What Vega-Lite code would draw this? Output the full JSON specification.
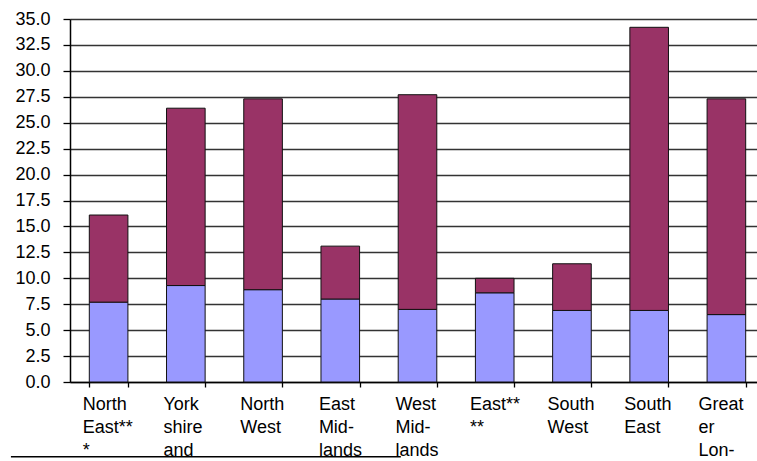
{
  "$schema": "https://vega.github.io/schema/vega-lite/v6.json",
  "width": 695,
  "height": 363,
  "autosize": "none",
  "padding": {"left": 70, "top": 19, "right": 0, "bottom": 79},
  "background": "white",
  "config": {
    "view": {"stroke": null},
    "font": "Liberation Sans",
    "axis": {"labelFont": "Liberation Sans", "labelColor": "black", "titleFont": "Liberation Sans"}
  },
  "layer": [
    {
      "data": {
        "values": [
          {"region": "North|East**|*", "series": "lower", "ord": 1, "value": 7.7},
          {"region": "North|East**|*", "series": "upper", "ord": 2, "value": 8.4},
          {"region": "York|shire|and|the|Humber", "series": "lower", "ord": 1, "value": 9.3},
          {"region": "York|shire|and|the|Humber", "series": "upper", "ord": 2, "value": 17.1},
          {"region": "North|West", "series": "lower", "ord": 1, "value": 8.9},
          {"region": "North|West", "series": "upper", "ord": 2, "value": 18.4},
          {"region": "East|Mid-|lands", "series": "lower", "ord": 1, "value": 8.0},
          {"region": "East|Mid-|lands", "series": "upper", "ord": 2, "value": 5.1},
          {"region": "West|Mid-|lands", "series": "lower", "ord": 1, "value": 7.0},
          {"region": "West|Mid-|lands", "series": "upper", "ord": 2, "value": 20.7},
          {"region": "East**|**", "series": "lower", "ord": 1, "value": 8.6},
          {"region": "East**|**", "series": "upper", "ord": 2, "value": 1.4},
          {"region": "South|West", "series": "lower", "ord": 1, "value": 6.9},
          {"region": "South|West", "series": "upper", "ord": 2, "value": 4.5},
          {"region": "South|East", "series": "lower", "ord": 1, "value": 6.9},
          {"region": "South|East", "series": "upper", "ord": 2, "value": 27.3},
          {"region": "Great|er|Lon-|don", "series": "lower", "ord": 1, "value": 6.5},
          {"region": "Great|er|Lon-|don", "series": "upper", "ord": 2, "value": 20.8}
        ]
      },
      "mark": {"type": "bar", "stroke": "#111", "strokeWidth": 1},
      "encoding": {
        "x": {
          "field": "region",
          "type": "nominal",
          "sort": null,
          "scale": {"paddingInner": 0.5, "paddingOuter": 0.25},
          "axis": {
            "title": null,
            "labelAngle": 0,
            "labelAlign": "left",
            "labelBaseline": "top",
            "labelFontSize": 18,
            "labelLineHeight": 23,
            "labelPadding": 8,
            "labelExpr": "datum.value ? split(datum.value, '|') : ''",
            "labelOffset": {"expr": "datum.value == 'North|East**|*' ? -26.3 : datum.value == 'York|shire|and|the|Humber' ? -22.9 : datum.value == 'North|West' ? -23.3 : datum.value == 'East|Mid-|lands' ? -21.9 : datum.value == 'West|Mid-|lands' ? -22.6 : datum.value == 'East**|**' ? -25.3 : datum.value == 'South|West' ? -24.9 : datum.value == 'South|East' ? -25.3 : -28.3"},
            "labelOverlap": false,
            "labelLimit": 0,
            "tickBand": "extent",
            "tickSize": 5,
            "tickColor": "black",
            "tickWidth": 1.3,
            "domainColor": "black",
            "domainWidth": 1.5,
            "grid": false
          }
        },
        "y": {
          "field": "value",
          "type": "quantitative",
          "stack": "zero",
          "scale": {"domain": [0, 35], "nice": false},
          "axis": {
            "title": null,
            "values": [0, 2.5, 5, 7.5, 10, 12.5, 15, 17.5, 20, 22.5, 25, 27.5, 30, 32.5, 35],
            "format": ".1f",
            "labelFontSize": 18,
            "labelPadding": 13,
            "labelOverlap": false,
            "tickSize": 7,
            "tickColor": "black",
            "tickWidth": 1.3,
            "domainColor": "black",
            "domainWidth": 1.5,
            "grid": true,
            "gridColor": "#333",
            "gridWidth": 1.3
          }
        },
        "color": {
          "field": "series",
          "type": "nominal",
          "scale": {"domain": ["lower", "upper"], "range": ["#9999FF", "#993366"]},
          "legend": null
        },
        "order": {"field": "ord", "type": "quantitative"}
      }
    },
    {
      "data": {"values": [{"x0": -0.085, "x1": 0.476, "yv": -7.2}]},
      "mark": {"type": "rule", "color": "black", "strokeWidth": 1.5},
      "encoding": {
        "x": {"field": "x0", "type": "quantitative", "scale": {"domain": [0, 1]}, "axis": null},
        "x2": {"field": "x1"},
        "y": {
          "field": "yv",
          "type": "quantitative",
          "axis": {
            "title": null,
            "values": [0, 2.5, 5, 7.5, 10, 12.5, 15, 17.5, 20, 22.5, 25, 27.5, 30, 32.5, 35],
            "format": ".1f",
            "labelFontSize": 18,
            "labelPadding": 13,
            "labelOverlap": false,
            "tickSize": 7,
            "tickColor": "black",
            "tickWidth": 1.3,
            "domainColor": "black",
            "domainWidth": 1.5,
            "grid": true,
            "gridColor": "#333",
            "gridWidth": 1.3
          }
        }
      }
    }
  ],
  "resolve": {"scale": {"x": "independent"}}
}
